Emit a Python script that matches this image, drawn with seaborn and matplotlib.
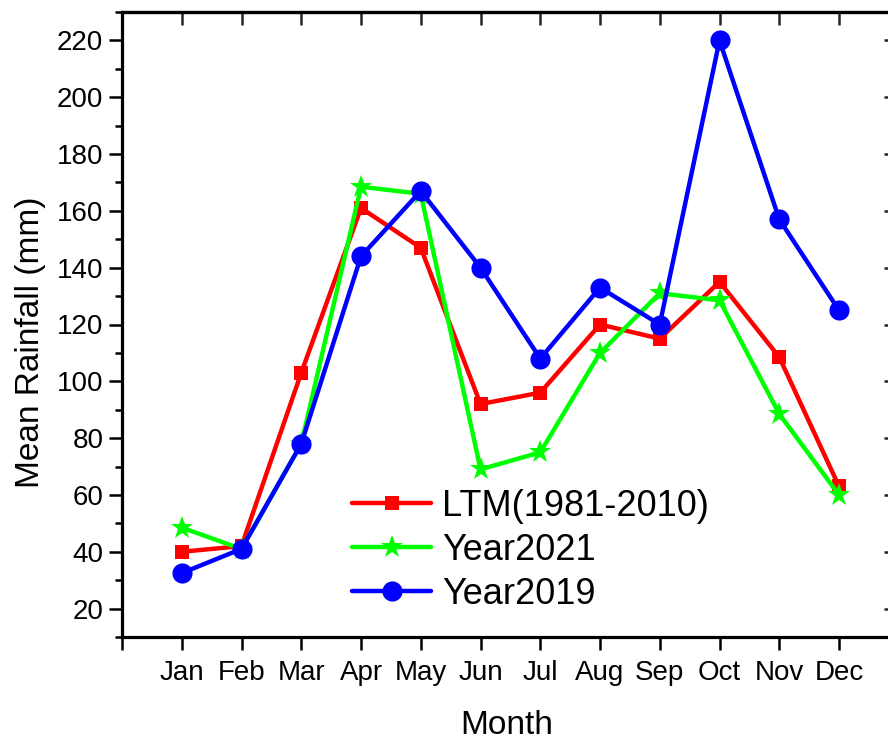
import matplotlib
matplotlib.use("Agg")
import matplotlib.pyplot as plt
from matplotlib.ticker import MultipleLocator
import pandas as pd
import seaborn as sns

sns.set_style("white")
plt.rcParams['font.family'] = ['Liberation Sans', 'DejaVu Sans']
plt.rcParams['text.color'] = 'black'
plt.rcParams['axes.labelcolor'] = 'black'

# data (mm)
months = ['Jan', 'Feb', 'Mar', 'Apr', 'May', 'Jun', 'Jul', 'Aug', 'Sep', 'Oct', 'Nov', 'Dec']
month_idx = list(range(1, 13))
ltm = [40, 42, 103, 161, 147, 92, 96, 120, 115, 135, 108.5, 63]
year2021 = [48.5, 41, 78, 168.5, 166, 69, 75, 110, 131, 128.5, 88.5, 60]
year2019 = [32.5, 41, 78, 144, 167, 140, 108, 133, 120, 220, 157, 125]

series = [
    ('LTM(1981-2010)', ltm, '#ff0000', 's', 10),
    ('Year2021', year2021, '#00ff00', '*', 17),
    ('Year2019', year2019, '#0000ff', 'o', 14.5),
]

fig = plt.figure(figsize=(8.88, 7.4), dpi=100)
ax = fig.add_axes([122 / 888, 103 / 740, 769 / 888, 625 / 740])

for name, vals, col, mk, ms in series:
    df = pd.DataFrame({'Month': month_idx, 'Rain': vals})
    sns.lineplot(data=df, x='Month', y='Rain', ax=ax, color=col, marker=mk,
                 markersize=ms, markeredgewidth=0, linewidth=3.2, sort=False,
                 label=name)

ax.set_xlim(0, 12.87)
ax.set_ylim(10, 230)
ax.set_xticks(range(0, 13))
ax.set_xticklabels([''] + months)
ax.yaxis.set_major_locator(MultipleLocator(20))
ax.yaxis.set_minor_locator(MultipleLocator(10))
ax.set_yticks(range(20, 221, 20))

for s in ax.spines.values():
    s.set_linewidth(2.3)
    s.set_color('black')

ax.tick_params(axis='x', which='major', direction='out', length=9.5, width=1.8,
               labelsize=20, pad=7, bottom=True, colors='black')
ax.tick_params(axis='y', which='major', direction='out', length=9.5, width=1.8,
               labelsize=20, pad=4, left=True, colors='black')
ax.tick_params(axis='y', which='minor', direction='out', length=5, width=1.8,
               left=True, colors='black')

top = ax.secondary_xaxis('top')
top.set_xticks(month_idx)
top.tick_params(direction='in', length=9.5, width=1.8, labeltop=False)
top.spines['top'].set_linewidth(2.3)
right = ax.secondary_yaxis('right')
right.set_yticks(range(20, 221, 20))
right.tick_params(direction='in', length=5, width=1.8, labelright=False)

ax.set_xlabel('Month', fontsize=24, labelpad=17)
ax.set_ylabel('Mean Rainfall (mm)', fontsize=24)
ax.yaxis.set_label_coords(-0.099, 0.472)

ax.legend(loc='upper left', bbox_to_anchor=(352 / 888, 1 - 489 / 740),
          bbox_transform=fig.transFigure, frameon=False, fontsize=26,
          borderpad=0, borderaxespad=0, handlelength=2.2, handletextpad=0.3,
          labelspacing=0.25)

fig.savefig('out.png', dpi=100)
